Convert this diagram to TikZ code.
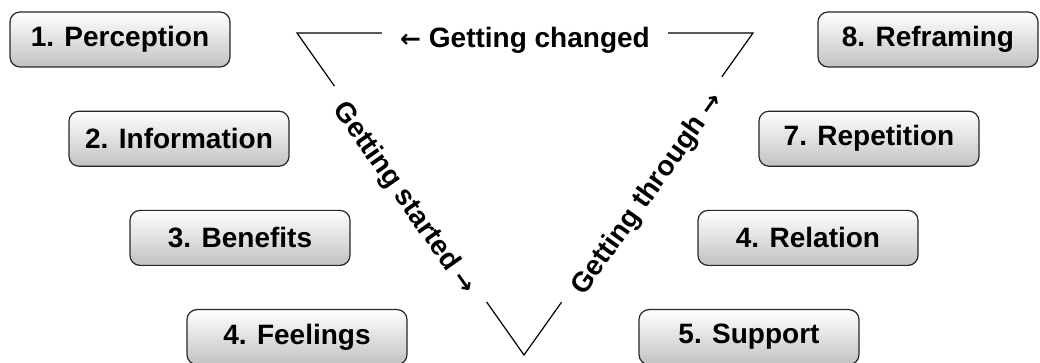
\documentclass[tikz,border=0pt]{standalone}
\usepackage{fontspec}
\setmainfont{Liberation Sans}
\newfontfamily\arrowfont{DejaVu Sans}
\usetikzlibrary{positioning}

\begin{document}
\begin{tikzpicture}[x=1pt, y=1pt,
    stage/.style={draw=black!85, line width=1.2pt, rounded corners=10pt,
      top color=white, bottom color=black!24, minimum width=220pt,
      minimum height=55pt, font=\fontsize{28}{34}\selectfont\bfseries},
    phase/.style={fill=white, inner xsep=18pt, inner ysep=4pt,
      text height=30pt, text depth=0pt,
      font=\fontsize{28}{34}\selectfont\bfseries}]
    \useasboundingbox (0,0) rectangle (1040,363);

    \node[stage] (Perception) at (120,323.5) {1. Perception};
    \node[stage, below=43pt of Perception, xshift=59pt] (Information) {2. Information};
    \node[stage, below=43pt of Information, xshift=61pt] (Benefits) {3. Benefits};
    \node[stage, below=43pt of Benefits, xshift=57pt] (Feelings) {4. Feelings};

    \node[stage] (Reframing) at (928,323.5) {8. Reframing};
    \node[stage, below=43pt of Reframing, xshift=-59pt] (Repetition) {7. Repetition};
    \node[stage, below=43pt of Repetition, xshift=-61pt] (Relation) {4. Relation};
    \node[stage, below=43pt of Relation, xshift=-59pt] (Support) {5. Support};

    \coordinate (TopLeft) at (297,330);
    \coordinate (TopRight) at (753,330);
    \coordinate (Bottom) at (524,8);

    \draw[line width=1.2pt] (TopLeft)
      -- node[phase] (Changed) {{\arrowfont\fontsize{25}{30}\selectfont ←} Getting changed} (TopRight)
      -- node[phase, sloped, pos=0.486] (Through) {Getting through {\arrowfont\fontsize{25}{30}\selectfont →}} (Bottom)
      -- node[phase, sloped] (Started) {Getting started {\arrowfont\fontsize{25}{30}\selectfont →}} cycle;
  \end{tikzpicture}
\end{document}
